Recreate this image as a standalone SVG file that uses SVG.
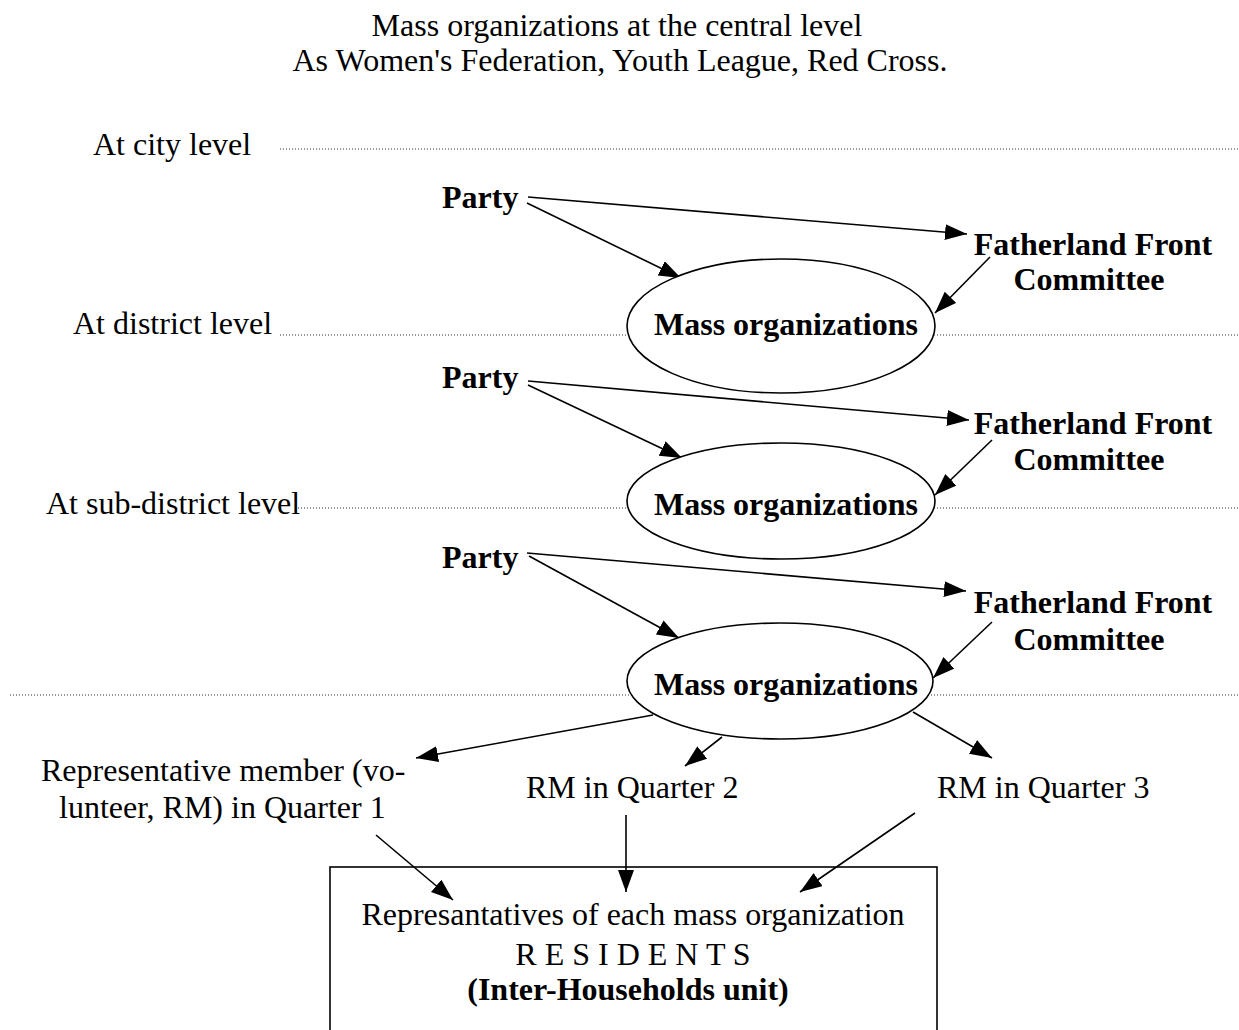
<svg xmlns="http://www.w3.org/2000/svg" width="1239" height="1030" viewBox="0 0 1239 1030">
<style>
text{font-family:"Liberation Serif","Times New Roman",serif;font-size:32px;fill:#000}
.b{font-weight:bold}
.m{text-anchor:middle}
.dot{stroke:#333;stroke-width:1;stroke-dasharray:1 2;fill:none}
.arr{stroke:#000;stroke-width:1.6;fill:none;marker-end:url(#ah)}
.ell{fill:#fff;stroke:#000;stroke-width:1.6}
</style>
<defs>
<marker id="ah" markerUnits="userSpaceOnUse" markerWidth="24" markerHeight="18" refX="22" refY="8" orient="auto">
<path d="M0,0 L22,8 L0,16 z" fill="#000"/>
</marker>
</defs>
<rect width="1239" height="1030" fill="#fff"/>
<g id="title">
<text class="m" x="617" y="36">Mass organizations at the central level</text>
<text class="m" x="620" y="71">As Women's Federation, Youth League, Red Cross.</text>
</g>
<g id="levels">
<text x="93" y="155">At city level</text>
<line class="dot" x1="280" y1="149" x2="1239" y2="149"/>
<text x="73" y="334">At district level</text>
<line class="dot" x1="280" y1="335" x2="1239" y2="335"/>
<text x="46" y="514">At sub-district level</text>
<line class="dot" x1="298" y1="508" x2="1239" y2="508"/>
<line class="dot" x1="10" y1="695" x2="1239" y2="695"/>
</g>
<g id="connectors">
<line class="arr" x1="528" y1="197" x2="967" y2="234"/>
<line class="arr" x1="527" y1="203" x2="681" y2="278"/>
<line class="arr" x1="990" y1="257" x2="935" y2="313"/>
<line class="arr" x1="528" y1="381" x2="969" y2="420"/>
<line class="arr" x1="528" y1="385" x2="682" y2="458"/>
<line class="arr" x1="992" y1="440" x2="935" y2="495"/>
<line class="arr" x1="527" y1="553" x2="966" y2="591"/>
<line class="arr" x1="529" y1="556" x2="679" y2="638"/>
<line class="arr" x1="992" y1="622" x2="933" y2="678"/>
<line class="arr" x1="653" y1="715" x2="416" y2="758"/>
<line class="arr" x1="722" y1="737" x2="685" y2="766"/>
<line class="arr" x1="913" y1="712" x2="992" y2="758"/>
<line class="arr" x1="376" y1="835" x2="453" y2="900"/>
<line class="arr" x1="626" y1="815" x2="626" y2="892"/>
<line class="arr" x1="915" y1="813" x2="800" y2="892"/>
</g>
<g id="party1"><text class="b" x="442" y="208">Party</text></g>
<g id="ff1"><text class="b m" x="1093" y="255">Fatherland Front</text><text class="b m" x="1089" y="290">Committee</text></g>
<g id="mass1"><ellipse class="ell" cx="781" cy="326" rx="154" ry="67"/><text class="b m" x="786" y="335">Mass organizations</text></g>
<g id="party2"><text class="b" x="442" y="388">Party</text></g>
<g id="ff2"><text class="b m" x="1093" y="434">Fatherland Front</text><text class="b m" x="1089" y="470">Committee</text></g>
<g id="mass2"><ellipse class="ell" cx="781" cy="501" rx="154" ry="58"/><text class="b m" x="786" y="515">Mass organizations</text></g>
<g id="party3"><text class="b" x="442" y="568">Party</text></g>
<g id="ff3"><text class="b m" x="1093" y="613">Fatherland Front</text><text class="b m" x="1089" y="650">Committee</text></g>
<g id="mass3"><ellipse class="ell" cx="780" cy="681" rx="153" ry="58"/><text class="b m" x="786" y="695">Mass organizations</text></g>
<g id="rm1"><text x="41" y="781">Representative member (vo-</text><text x="59" y="818">lunteer, RM) in Quarter 1</text></g>
<g id="rm2"><text x="526" y="798">RM in Quarter 2</text></g>
<g id="rm3"><text x="937" y="798">RM in Quarter 3</text></g>
<g id="residents">
<rect x="330" y="867" width="607" height="170" fill="none" stroke="#000" stroke-width="1.6"/>
<text class="m" x="633" y="925">Represantatives of each mass organization</text>
<text class="m" x="633" y="965">R E S I D E N T S</text>
<text class="b m" x="628" y="1000">(Inter-Households unit)</text>
</g>
</svg>
